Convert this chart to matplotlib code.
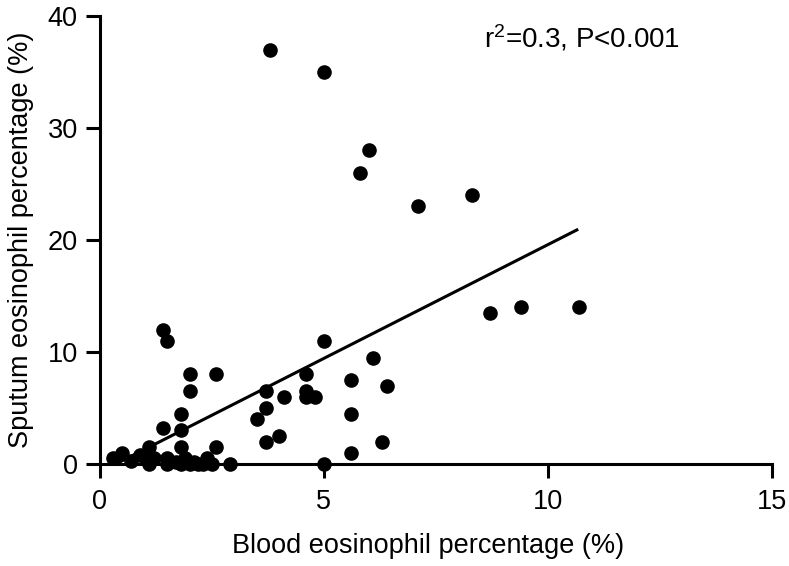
import matplotlib.pyplot as plt
import numpy as np

plt.rcParams['font.family'] = ['Liberation Sans', 'DejaVu Sans']
plt.rcParams['mathtext.default'] = 'regular'

# Blood vs sputum eosinophil percentage
blood = [3.8, 5.0, 6.0, 5.8, 7.1, 8.3, 8.7, 9.4, 10.7,
         1.4, 1.5, 2.0, 2.6, 2.0, 1.8, 1.4, 1.8, 5.0, 6.1,
         4.6, 5.6, 6.4, 3.7, 4.1, 4.6, 4.6, 4.8, 3.7, 3.5,
         5.6, 3.7, 4.0, 6.3, 5.6, 5.0,
         1.1, 1.8, 2.6, 0.5, 0.3, 0.9, 1.1, 1.5, 1.5, 1.2,
         1.7, 1.8, 1.9, 2.0, 2.1, 2.2, 2.4, 2.5, 2.9, 2.3, 0.7, 1.0]
sputum = [37.0, 35.0, 28.0, 26.0, 23.0, 24.0, 13.5, 14.0, 14.0,
          12.0, 11.0, 8.0, 8.0, 6.5, 4.5, 3.2, 3.0, 11.0, 9.5,
          8.0, 7.5, 7.0, 6.5, 6.0, 6.5, 6.0, 6.0, 5.0, 4.0,
          4.5, 2.0, 2.5, 2.0, 1.0, 0.0,
          1.5, 1.5, 1.5, 1.0, 0.5, 0.8, 0.0, 0.5, 0.0, 0.5,
          0.2, 0.0, 0.5, 0.0, 0.2, 0.0, 0.5, 0.0, 0.0, 0.0, 0.3, 0.6]

# regression line as drawn
fit_slope = 2.03
fit_intercept = -0.72
fit_x = [0.36, 10.65]

fig = plt.figure(figsize=(7.89, 5.66), dpi=100)
ax = fig.add_axes([0.1267, 0.1802, 0.8513, 0.7915])

ax.scatter(blood, sputum, s=90, color='black', zorder=3, clip_on=False)
fx = np.array(fit_x)
ax.plot(fx, fit_slope * fx + fit_intercept, color='black', lw=2.2)

ax.set_xlim(0, 15)
ax.set_ylim(0, 40)
ax.set_xticks([0, 5, 10, 15])
ax.set_yticks([0, 10, 20, 30, 40])

for side in ['top', 'right']:
    ax.spines[side].set_visible(False)
for side in ['left', 'bottom']:
    ax.spines[side].set_linewidth(2.2)
ax.tick_params(direction='out', length=10, width=2.2, labelsize=19.5)
ax.tick_params(axis='x', pad=8)
ax.tick_params(axis='y', pad=6)

ax.set_xlabel('Blood eosinophil percentage (%)', fontsize=19.5)
ax.xaxis.set_label_coords(0.488, -0.155)
ax.set_ylabel('Sputum eosinophil percentage (%)', fontsize=19.5, labelpad=10)

ax.text(0.863, 0.985, 'r$^{2}$=0.3, P<0.001', transform=ax.transAxes,
        fontsize=20, ha='right', va='top')

fig.savefig('out.png', dpi=100)
